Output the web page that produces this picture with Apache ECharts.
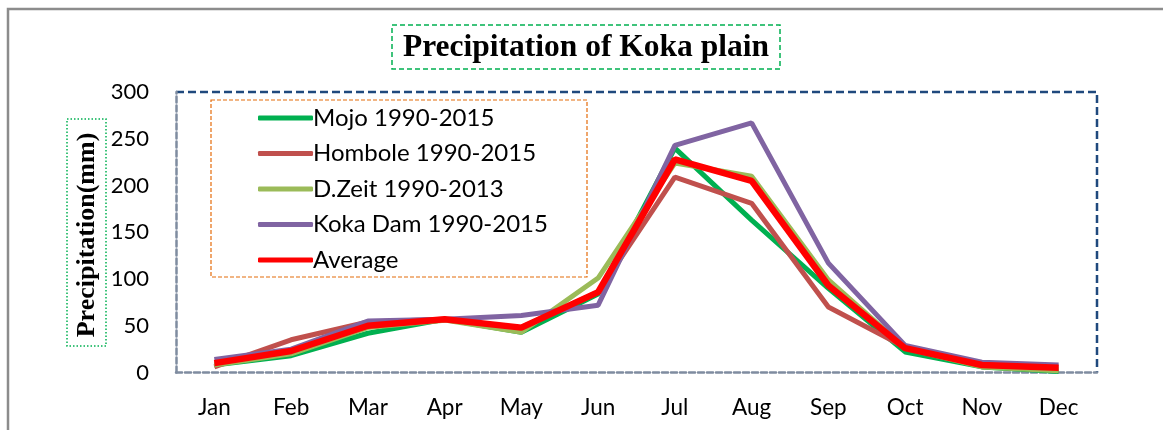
<!DOCTYPE html>
<html>
<head>
<meta charset="utf-8">
<script src="https://cdn.jsdelivr.net/npm/echarts@6/dist/echarts.min.js"></script>
<style>
  html, body { margin: 0; padding: 0; background: #fff; }
  #chart { width: 1163px; height: 430px; }
</style>
</head>
<body>
<div id="chart"></div>
<script>
// 月份和各站的降水量 (mm)
const months = ['Jan', 'Feb', 'Mar', 'Apr', 'May', 'Jun', 'Jul', 'Aug', 'Sep', 'Oct', 'Nov', 'Dec'];
const mojo    = [8, 18, 42, 57, 43, 84, 240, 163, 90, 22, 6, 1];
const hombole = [6, 35, 54, 57, 48, 86, 209, 181, 70, 27, 7, 3];
const dzeit   = [8, 20, 48, 56, 43, 101, 224, 210, 99, 26, 6, 2];
const kokaDam = [14, 25, 55, 57, 61, 72, 243, 267, 117, 29, 11, 8];
const average = [10, 23, 50, 57, 48, 86, 228, 205, 93, 26, 8, 5];
const yTicks = [0, 50, 100, 150, 200, 250, 300];

const chart = echarts.init(document.getElementById('chart'));

const labelFont = 'Lato, "Open Sans", sans-serif';
const serifFont = '"Liberation Serif", "DejaVu Serif", serif';

function station(name, data, color, width) {
    return {
        name: name,
        type: 'line',
        data: data,
        symbol: 'none',
        smooth: false,
        lineStyle: { color: color, width: width },
        itemStyle: { color: color },
        z: 3
    };
}

const option = {
    animation: false,
    backgroundColor: '#fff',
    grid: {
        left: 176,
        right: 66,
        top: 92,
        bottom: 57.5
    },
    legend: {
        orient: 'vertical',
        left: 253,
        top: 100.5,
        icon: 'roundRect',
        itemWidth: 55,
        itemHeight: 5,
        itemGap: 10.5,
        textStyle: {
            fontFamily: labelFont,
            fontSize: 24,
            color: '#000',
            lineHeight: 25,
            padding: [0, 0, 0, -5]
        },
        data: ['Mojo 1990-2015', 'Hombole 1990-2015', 'D.Zeit 1990-2013', 'Koka Dam 1990-2015', 'Average']
    },
    xAxis: {
        type: 'category',
        data: months,
        boundaryGap: true,
        axisTick: { show: false },
        axisLine: {
            show: true,
            lineStyle: { color: '#7f8ca0', width: 2.5, type: [6, 3] }
        },
        axisLabel: {
            margin: 24,
            fontFamily: labelFont,
            fontSize: 22.5,
            color: '#000'
        }
    },
    yAxis: {
        type: 'value',
        min: 0,
        max: 300,
        interval: 50,
        splitLine: { show: false },
        axisTick: { show: false },
        axisLine: {
            show: true,
            lineStyle: { color: '#7f8ca0', width: 2.5, type: [6, 3] }
        },
        axisLabel: {
            margin: 27,
            fontFamily: labelFont,
            fontSize: 22,
            color: '#000',
            formatter: function (v) { return yTicks.indexOf(v) >= 0 ? String(v) : ''; }
        }
    },
    graphic: [
        // 外框
        { type: 'polyline', shape: { points: [[8, 430], [8, 9], [1163, 9]] },
          style: { stroke: '#8c8c8c', lineWidth: 2.5, fill: null }, silent: true },
        // 绘图区虚线框 (上、右)
        { type: 'polyline', shape: { points: [[176, 92], [1097, 92], [1097, 372.5]] },
          style: { stroke: '#1f497d', lineWidth: 2.5, lineDash: [8, 4], fill: null }, silent: true },
        // 标题框
        { type: 'rect', shape: { x: 392, y: 25, width: 388, height: 44 },
          style: { stroke: '#00b050', lineWidth: 1.5, lineDash: [5, 3], fill: '#fff' }, z: 10 },
        { type: 'text', x: 586, y: 48, style: {
            text: 'Precipitation of Koka plain', align: 'center', verticalAlign: 'middle',
            font: 'bold 31.5px ' + serifFont, fill: '#000' }, z: 11 },
        // 图例框
        { type: 'rect', shape: { x: 211, y: 100, width: 376, height: 177 },
          style: { stroke: '#e46c0a', lineWidth: 1.2, lineDash: [4, 2], fill: 'rgba(255,255,255,0)' }, z: 10 },
        // y轴名称框
        { type: 'rect', shape: { x: 67, y: 119, width: 39, height: 227 },
          style: { stroke: '#00b050', lineWidth: 1.5, lineDash: [1.5, 2], fill: 'rgba(255,255,255,0)' }, z: 10 },
        { type: 'text', x: 87, y: 235, rotation: Math.PI / 2, style: {
            text: 'Precipitation(mm)', align: 'center', verticalAlign: 'middle',
            font: 'bold 26px ' + serifFont, fill: '#000' }, z: 11 }
    ],
    series: [
        station('Mojo 1990-2015', mojo, '#00b050', 5),
        station('Hombole 1990-2015', hombole, '#c0504d', 5),
        station('D.Zeit 1990-2013', dzeit, '#9bbb59', 5),
        station('Koka Dam 1990-2015', kokaDam, '#8064a2', 5),
        station('Average', average, '#ff0000', 6.5)
    ]
};

chart.setOption(option);
</script>
</body>
</html>
